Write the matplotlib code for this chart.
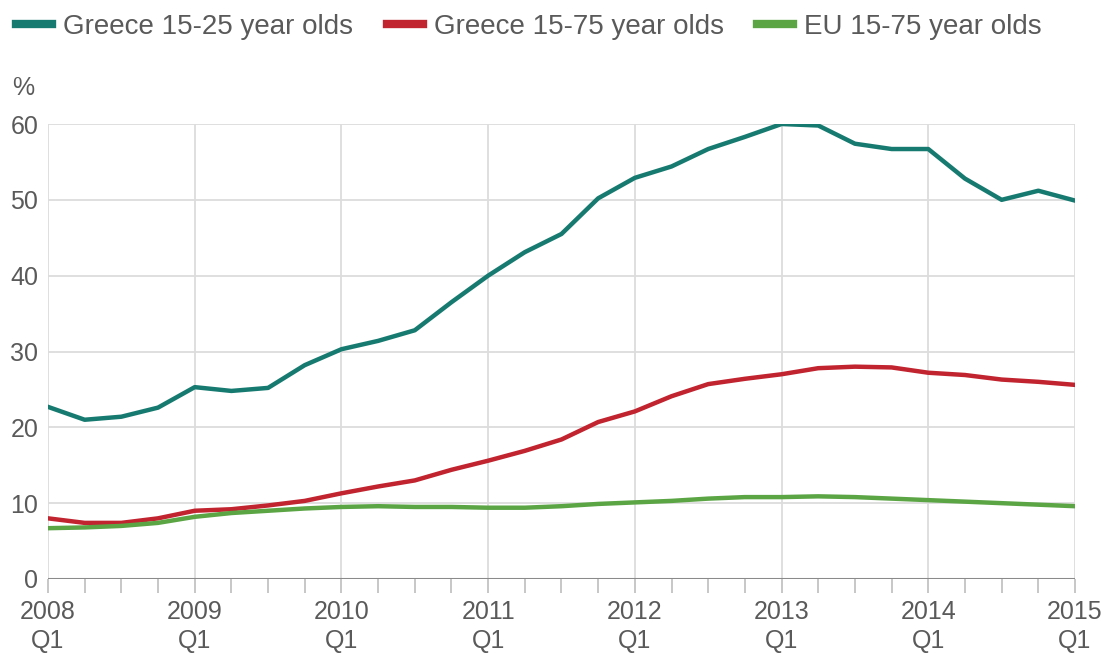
import matplotlib
matplotlib.use('Agg')
import matplotlib.pyplot as plt
import numpy as np

plt.rcParams['font.family'] = ['Liberation Sans', 'DejaVu Sans']

# quarterly unemployment rates, 2008 Q1 .. 2015 Q1
years = ['2008', '2009', '2010', '2011', '2012', '2013', '2014', '2015']
greece_young = [22.7, 21.0, 21.4, 22.6, 25.3, 24.8, 25.2, 28.2, 30.3, 31.4,
                32.8, 36.5, 40.0, 43.1, 45.5, 50.2, 52.9, 54.4, 56.7, 58.3,
                60.0, 59.8, 57.4, 56.7, 56.7, 52.8, 50.0, 51.2, 49.9]
greece_all = [8.0, 7.4, 7.4, 8.0, 9.0, 9.2, 9.7, 10.3, 11.3, 12.2,
              13.0, 14.4, 15.6, 16.9, 18.4, 20.7, 22.1, 24.1, 25.7, 26.4,
              27.0, 27.8, 28.0, 27.9, 27.2, 26.9, 26.3, 26.0, 25.6]
eu_all = [6.7, 6.8, 7.0, 7.4, 8.2, 8.7, 9.0, 9.3, 9.5, 9.6,
          9.5, 9.5, 9.4, 9.4, 9.6, 9.9, 10.1, 10.3, 10.6, 10.8,
          10.8, 10.9, 10.8, 10.6, 10.4, 10.2, 10.0, 9.8, 9.6]
labels = ['Greece 15-25 year olds', 'Greece 15-75 year olds', 'EU 15-75 year olds']
colors = ['#177a70', '#c1232f', '#5ba545']

q = np.arange(len(greece_young))

fig = plt.figure(figsize=(11.04, 6.56), dpi=100)
ax = fig.add_axes([48/1104, 1 - 579/656, 1027/1104, 455/656])

for vals, lab, col in zip([greece_young, greece_all, eu_all], labels, colors):
    ax.plot(q, vals, color=col, lw=3.2, label=lab, solid_joinstyle='round', zorder=3)

ax.set_xlim(0, len(q) - 1)
ax.set_ylim(0, 60)

# grid
ax.set_yticks(np.arange(0, 61, 10))
ax.set_xticks(np.arange(0, len(q), 4))
ax.set_xticks(q, minor=True)
ax.grid(True, which='major', color='#dcdcdc', lw=1.3, zorder=0)
ax.axhline(0, color='#8a8a8a', lw=2.2, zorder=2)

for s in ax.spines.values():
    s.set_visible(False)

ax.set_xticklabels([y + '\nQ1' for y in years])
ax.tick_params(axis='x', which='both', length=10, width=1.2, color='#bdbdbd',
               labelsize=18, labelcolor='#5a5a5a', pad=5)
ax.tick_params(axis='y', length=0, labelsize=18, labelcolor='#5a5a5a', pad=7)
for t in ax.get_xticklabels():
    t.set_linespacing(1.25)

fig.text(12/1104, 1 - 88/656, '%', fontsize=18, color='#5a5a5a', va='center', ha='left')

leg = fig.legend(loc='center left', bbox_to_anchor=(16/1104, 1 - 27/656), ncol=3,
                 frameon=False, fontsize=20, handlelength=1.3, handletextpad=0.4,
                 columnspacing=1.2, borderpad=0, borderaxespad=0)
for h in leg.get_lines():
    h.set_linewidth(6)
for t in leg.get_texts():
    t.set_color('#5a5a5a')

fig.savefig('out.png', dpi=100, facecolor='white')
